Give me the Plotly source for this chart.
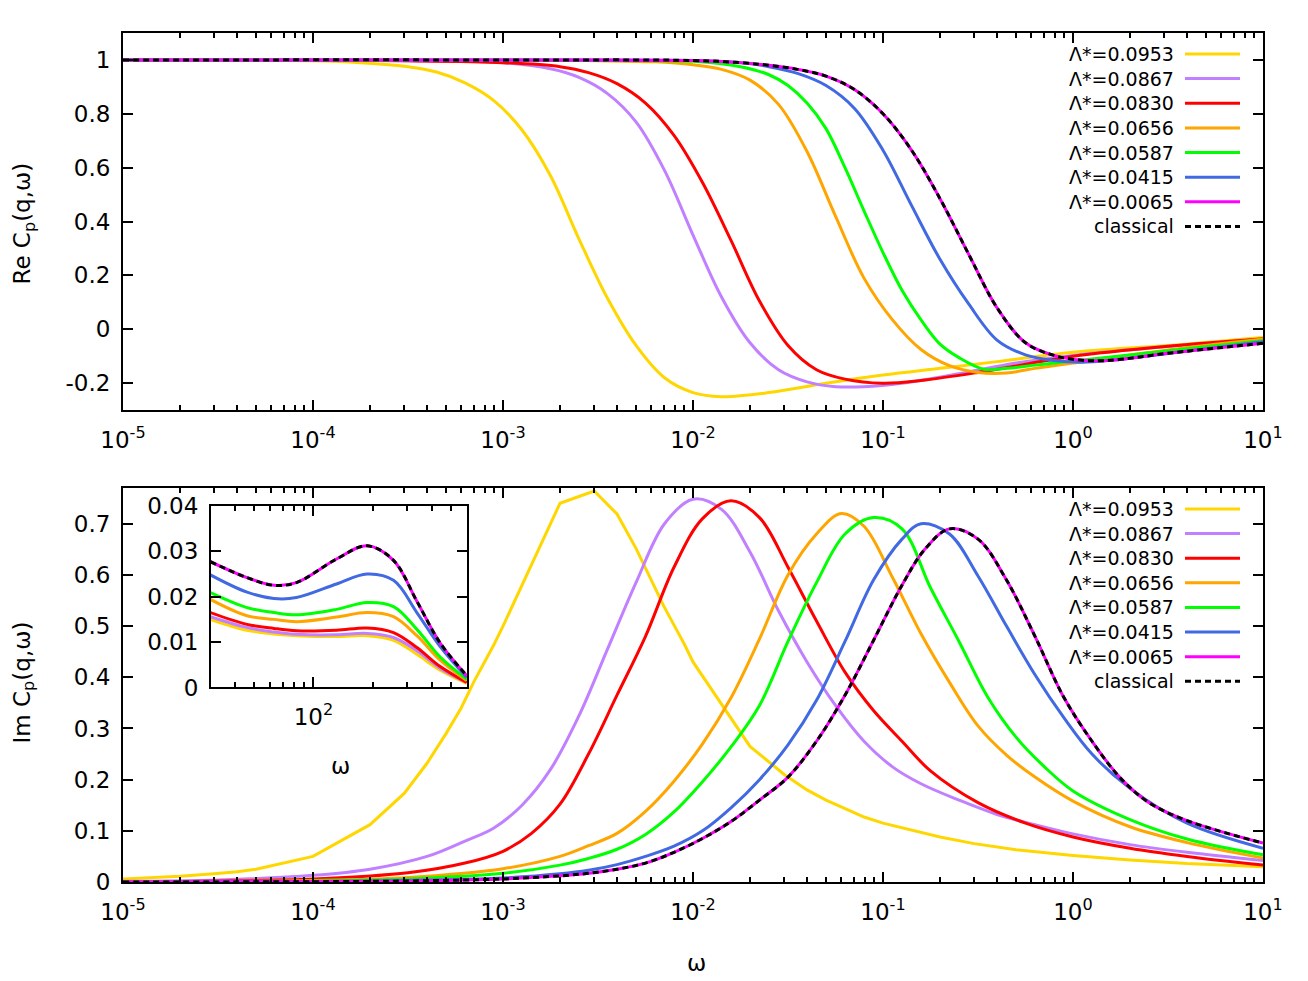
import numpy as np
import plotly.graph_objects as go

labels = ["Λ*=0.0953", "Λ*=0.0867", "Λ*=0.0830", "Λ*=0.0656",
          "Λ*=0.0587", "Λ*=0.0415", "Λ*=0.0065", "classical"]
colors = ["#FFD700", "#C080FF", "#FF0000", "#FFA500",
          "#00FF00", "#4169E1", "#FF00FF", "#000000"]

# ---- Re C_p(q,w): knots as log10(w) and value ----
re_lw_0953 = [-5, -4.5, -4, -3.75, -3.5, -3.35, -3.2, -3.05, -2.9, -2.75, -2.6, -2.45, -2.3, -2.15, -2.0,
              -1.85, -1.6, -1.3, -1.0, -0.7, -0.4, 0, 0.5, 1]
re_0953 = [1.0, 0.999, 0.997, 0.99, 0.975, 0.955, 0.915, 0.85, 0.74, 0.57, 0.335, 0.115, -0.06, -0.18, -0.235,
           -0.25, -0.235, -0.2, -0.17, -0.145, -0.12, -0.085, -0.06, -0.03]

re_lw_0867 = [-5, -4, -3.5, -3.0, -2.75, -2.6, -2.45, -2.3, -2.15, -2.0, -1.85, -1.7, -1.55, -1.4, -1.25,
              -1.1, -0.9, -0.6, -0.3, 0, 0.5, 1]
re_0867 = [1.0, 0.999, 0.997, 0.99, 0.967, 0.935, 0.875, 0.77, 0.59, 0.35, 0.12, -0.05, -0.15, -0.195, -0.213,
           -0.213, -0.2, -0.165, -0.125, -0.097, -0.064, -0.037]

re_lw_0830 = [-5, -4, -3.5, -3.0, -2.7, -2.55, -2.4, -2.25, -2.1, -1.95, -1.8, -1.65, -1.5, -1.35, -1.2,
              -1.0, -0.8, -0.5, -0.25, 0, 0.5, 1]
re_0830 = [1.0, 0.999, 0.997, 0.99, 0.975, 0.953, 0.912, 0.84, 0.72, 0.545, 0.33, 0.105, -0.06, -0.15, -0.185,
           -0.2, -0.19, -0.16, -0.13, -0.10, -0.063, -0.035]

re_lw_0656 = [-5, -3, -2.5, -2.2, -2.0, -1.85, -1.7, -1.55, -1.4, -1.25, -1.1, -0.95, -0.8, -0.65, -0.5,
              -0.35, -0.2, 0, 0.5, 1]
re_0656 = [1.0, 0.999, 0.997, 0.993, 0.982, 0.965, 0.925, 0.835, 0.66, 0.42, 0.19, 0.035, -0.075, -0.135, -0.16,
           -0.162, -0.145, -0.125, -0.077, -0.036]

re_lw_0587 = [-5, -3, -2.5, -2, -1.75, -1.6, -1.5, -1.4, -1.3, -1.2, -1.1, -1.0, -0.9, -0.8, -0.7, -0.6, -0.47,
              -0.35, -0.2, 0, 0.5, 1]
re_0587 = [1.0, 0.999, 0.998, 0.995, 0.975, 0.945, 0.905, 0.84, 0.745, 0.60, 0.44, 0.285, 0.145, 0.035, -0.055,
           -0.105, -0.148, -0.145, -0.133, -0.118, -0.08, -0.042]

re_lw_0415 = [-5, -3, -2, -1.75, -1.6, -1.45, -1.3, -1.15, -1.0, -0.85, -0.7, -0.55, -0.4, -0.25, -0.1,
              0.05, 0.2, 0.5, 1]
re_0415 = [1.0, 1.0, 0.998, 0.99, 0.975, 0.95, 0.905, 0.82, 0.665, 0.46, 0.26, 0.095, -0.04, -0.095, -0.116,
           -0.122, -0.115, -0.09, -0.046]

re_lw_0065 = [-5, -3, -2, -1.75, -1.6, -1.45, -1.3, -1.15, -1.0, -0.85, -0.7, -0.55, -0.4, -0.25, -0.1,
              0.05, 0.2, 0.5, 1]
re_0065 = [1.0, 1.0, 0.998, 0.99, 0.98, 0.965, 0.94, 0.89, 0.80, 0.665, 0.485, 0.28, 0.08, -0.05, -0.097,
           -0.115, -0.115, -0.089, -0.052]

# ---- Im C_p(q,w) ----
im_lw_0953 = [-5, -4.7, -4.52, -4.4, -4.3, -4, -3.7, -3.52, -3.4, -3.3, -3.22, -3.155, -3.097, -3.046, -3.0,
              -2.7, -2.52, -2.4, -2.3, -2.22, -2.155, -2.097, -2.046, -2.0, -1.7, -1.52, -1.4, -1.3, -1.22,
              -1.155, -1.1, -1.046, -1.0, -0.7, -0.52, -0.3, 0, 0.3, 0.6, 1]
im_0953 = [0.006, 0.011, 0.016, 0.02, 0.025, 0.05, 0.112, 0.173, 0.232, 0.29, 0.34, 0.39, 0.43, 0.465, 0.50,
           0.74, 0.764, 0.719, 0.652, 0.592, 0.54, 0.50, 0.465, 0.43, 0.265, 0.21, 0.18, 0.16, 0.146,
           0.136, 0.127, 0.12, 0.115, 0.088, 0.075, 0.063, 0.052, 0.043, 0.036, 0.03]

im_lw_0867 = [-5, -4.5, -4, -3.7, -3.4, -3.2, -3.05, -2.9, -2.75, -2.6, -2.45, -2.3, -2.15, -2.0, -1.85,
              -1.7, -1.55, -1.4, -1.25, -1.1, -0.95, -0.8, -0.6, -0.4, -0.2, 0, 0.3, 0.6, 1]
im_0867 = [0.0013, 0.004, 0.013, 0.025, 0.05, 0.08, 0.105, 0.15, 0.22, 0.325, 0.455, 0.585, 0.70, 0.748, 0.728,
           0.645, 0.53, 0.43, 0.345, 0.275, 0.225, 0.192, 0.16, 0.132, 0.112, 0.094, 0.073, 0.058, 0.042]

im_lw_0830 = [-5, -4.5, -4, -3.5, -3.2, -3.0, -2.85, -2.7, -2.55, -2.4, -2.25, -2.1, -1.95, -1.8, -1.65,
              -1.5, -1.35, -1.2, -1.05, -0.9, -0.75, -0.5, -0.25, 0, 0.3, 0.6, 1]
im_0830 = [0.0006, 0.002, 0.006, 0.018, 0.037, 0.06, 0.095, 0.152, 0.25, 0.365, 0.48, 0.615, 0.71, 0.745, 0.712,
           0.615, 0.51, 0.41, 0.335, 0.275, 0.217, 0.155, 0.115, 0.088, 0.066, 0.05, 0.033]

im_lw_0656 = [-5, -4, -3.5, -3, -2.7, -2.55, -2.4, -2.25, -2.1, -1.95, -1.8, -1.65, -1.5, -1.35, -1.22,
              -1.1, -0.95, -0.8, -0.65, -0.5, -0.35, -0.2, 0, 0.3, 0.6, 1]
im_0656 = [0.0003, 0.003, 0.009, 0.026, 0.05, 0.071, 0.095, 0.138, 0.197, 0.27, 0.36, 0.475, 0.60, 0.68, 0.72,
           0.695, 0.595, 0.485, 0.39, 0.305, 0.248, 0.205, 0.158, 0.108, 0.077, 0.047]

im_lw_0587 = [-5, -4, -3.5, -3, -2.7, -2.55, -2.4, -2.25, -2.1, -1.95, -1.8, -1.65, -1.5, -1.35, -1.2,
              -1.05, -0.9, -0.75, -0.6, -0.45, -0.3, -0.15, 0, 0.3, 0.6, 1]
im_0587 = [0.0002, 0.002, 0.006, 0.017, 0.033, 0.046, 0.064, 0.093, 0.137, 0.196, 0.264, 0.345, 0.47, 0.585, 0.68,
           0.712, 0.69, 0.575, 0.47, 0.362, 0.283, 0.225, 0.178, 0.122, 0.084, 0.053]

im_lw_0415 = [-5, -4, -3.5, -3, -2.7, -2.55, -2.4, -2.25, -2.1, -1.95, -1.8, -1.65, -1.5, -1.35, -1.2,
              -1.05, -0.9, -0.8, -0.65, -0.5, -0.35, -0.2, -0.05, 0.1, 0.3, 0.6, 1]
im_0415 = [0.0001, 0.0008, 0.003, 0.008, 0.016, 0.023, 0.034, 0.05, 0.07, 0.10, 0.145, 0.20, 0.268, 0.355, 0.47,
           0.59, 0.67, 0.70, 0.68, 0.598, 0.50, 0.405, 0.322, 0.25, 0.183, 0.115, 0.066]

im_lw_0065 = [-5, -4, -3.5, -3, -2.7, -2.55, -2.4, -2.25, -2.1, -1.95, -1.8, -1.65, -1.5, -1.35, -1.2,
              -1.05, -0.9, -0.78, -0.65, -0.5, -0.35, -0.2, -0.05, 0.1, 0.25, 0.4, 0.6, 1]
im_0065 = [0.0001, 0.0006, 0.002, 0.006, 0.012, 0.017, 0.025, 0.037, 0.058, 0.085, 0.118, 0.16, 0.205, 0.275, 0.365,
           0.472, 0.58, 0.65, 0.69, 0.67, 0.59, 0.48, 0.362, 0.275, 0.203, 0.155, 0.12, 0.076]

# ---- inset: Im C_p at large w ----
inset_w = [30, 46, 63, 82, 131, 187, 255, 335, 440, 600]
ins_0953 = [0.0150, 0.0126, 0.0118, 0.0114, 0.0112, 0.0114, 0.0104, 0.0073, 0.0038, 0.0009]
ins_0867 = [0.0156, 0.0132, 0.0122, 0.0117, 0.0116, 0.0119, 0.0110, 0.0081, 0.0042, 0.0011]
ins_0830 = [0.0165, 0.0139, 0.0130, 0.0125, 0.0126, 0.0131, 0.0121, 0.0088, 0.0046, 0.0011]
ins_0656 = [0.0194, 0.0158, 0.0150, 0.0145, 0.0155, 0.0165, 0.0156, 0.0114, 0.0060, 0.0015]
ins_0587 = [0.0209, 0.0176, 0.0165, 0.0160, 0.0172, 0.0187, 0.0178, 0.0128, 0.0067, 0.0018]
ins_0415 = [0.0248, 0.0210, 0.0196, 0.0198, 0.0228, 0.0250, 0.0236, 0.0165, 0.0090, 0.0022]
ins_0065 = [0.0277, 0.0242, 0.0225, 0.0231, 0.0283, 0.0312, 0.0280, 0.0190, 0.0098, 0.0026]

re_series = [(re_lw_0953, re_0953), (re_lw_0867, re_0867), (re_lw_0830, re_0830), (re_lw_0656, re_0656),
             (re_lw_0587, re_0587), (re_lw_0415, re_0415), (re_lw_0065, re_0065), (re_lw_0065, re_0065)]
im_series = [(im_lw_0953, im_0953), (im_lw_0867, im_0867), (im_lw_0830, im_0830), (im_lw_0656, im_0656),
             (im_lw_0587, im_0587), (im_lw_0415, im_0415), (im_lw_0065, im_0065), (im_lw_0065, im_0065)]
inset_series = [ins_0953, ins_0867, ins_0830, ins_0656, ins_0587, ins_0415, ins_0065, ins_0065]

FONT = "DejaVu Sans"


def line_style(i, shape="spline"):
    if i == 7:
        return dict(color="black", width=3, dash="6px,4px", shape=shape, smoothing=1.0)
    return dict(color=colors[i], width=3, shape=shape, smoothing=1.0)


fig = go.Figure()
for i in range(8):
    lw, v = re_series[i]
    fig.add_trace(go.Scatter(x=10 ** np.array(lw, dtype=float), y=v, mode="lines",
                             line=line_style(i), xaxis="x", yaxis="y", hoverinfo="skip"))
for i in range(8):
    lw, v = im_series[i]
    shape = "linear" if i == 0 else "spline"
    fig.add_trace(go.Scatter(x=10 ** np.array(lw, dtype=float), y=v, mode="lines",
                             line=line_style(i, shape), xaxis="x2", yaxis="y2", hoverinfo="skip"))
for i in range(8):
    fig.add_trace(go.Scatter(x=inset_w, y=inset_series[i], mode="lines",
                             line=line_style(i), xaxis="x3", yaxis="y3", hoverinfo="skip"))

decades = [1e-5, 1e-4, 1e-3, 1e-2, 1e-1, 1e0, 1e1]
dec_text = ["10<sup>-5</sup>", "10<sup>-4</sup>", "10<sup>-3</sup>", "10<sup>-2</sup>",
            "10<sup>-1</sup>", "10<sup>0</sup>", "10<sup>1</sup>"]
minor_vals = [k * 10.0 ** e for e in range(-5, 1) for k in range(2, 10)]

axis_common = dict(showline=True, linecolor="black", linewidth=2, mirror="ticks",
                   ticks="inside", ticklen=10, tickwidth=1.5, tickcolor="black",
                   showgrid=False, zeroline=False,
                   tickfont=dict(family=FONT, size=23, color="black"))
xlog = dict(axis_common, type="log", range=[-5, 1], tickmode="array", tickvals=decades, ticktext=dec_text,
            minor=dict(tickmode="array", tickvals=minor_vals, ticks="inside", ticklen=5,
                       tickwidth=1.5, tickcolor="black", showgrid=False),
            ticklabelstandoff=8)

top_dom = [1 - 378 / 851, 1]
bot_dom = [0, 395 / 851]

# the page body adds an 8px offset, so the figure is 8px smaller than the window
fig.update_layout(
    width=1300, height=973,
    margin=dict(l=115, r=45, t=23, b=99),
    paper_bgcolor="white", plot_bgcolor="white",
    showlegend=False,
    font=dict(family=FONT, size=23, color="black"),
    xaxis=dict(xlog, domain=[0, 1], anchor="y"),
    yaxis=dict(axis_common, domain=top_dom, anchor="x", range=[-0.3, 1.1], tickmode="array",
               tickvals=[-0.2, 0, 0.2, 0.4, 0.6, 0.8, 1],
               ticktext=["-0.2", "0", "0.2", "0.4", "0.6", "0.8", "1"], ticklabelstandoff=6),
    xaxis2=dict(xlog, domain=[0, 1], anchor="y2"),
    yaxis2=dict(axis_common, domain=bot_dom, anchor="x2", range=[0, 0.77], tickmode="array",
                tickvals=[0, 0.1, 0.2, 0.3, 0.4, 0.5, 0.6, 0.7],
                ticktext=["0", "0.1", "0.2", "0.3", "0.4", "0.5", "0.6", "0.7"], ticklabelstandoff=6),
    xaxis3=dict(axis_common, type="log", domain=[88 / 1140, 344 / 1140], anchor="y3",
                range=[np.log10(30.2), np.log10(602)], tickmode="array",
                tickvals=[100], ticktext=["10<sup>2</sup>"], ticklabelstandoff=8,
                minor=dict(tickmode="array", tickvals=[40, 50, 60, 70, 80, 90, 200, 300, 400, 500],
                           ticks="inside", ticklen=5, tickwidth=1.5, tickcolor="black", showgrid=False)),
    yaxis3=dict(axis_common, domain=[195 / 851, 377 / 851], anchor="x3", range=[0, 0.04], tickmode="array",
                tickvals=[0, 0.01, 0.02, 0.03, 0.04], ticktext=["0", "0.01", "0.02", "0.03", "0.04"],
                ticklabelstandoff=6),
)


def py2paper(py):
    return (882 - py) / 851


def px2paper(px):
    return (px - 123) / 1140


title_font = dict(family=FONT, size=23)
fig.add_annotation(text="Re C<sub>p</sub>(q,ω)", xref="paper", yref="paper", x=px2paper(24), y=py2paper(222),
                   xanchor="center", yanchor="middle", textangle=-90, showarrow=False, font=title_font)
fig.add_annotation(text="Im C<sub>p</sub>(q,ω)", xref="paper", yref="paper", x=px2paper(24), y=py2paper(682),
                   xanchor="center", yanchor="middle", textangle=-90, showarrow=False, font=title_font)
fig.add_annotation(text="ω", xref="paper", yref="paper", x=px2paper(696), y=py2paper(963),
                   xanchor="center", yanchor="middle", showarrow=False, font=title_font)
fig.add_annotation(text="ω", xref="paper", yref="paper", x=px2paper(340), y=py2paper(766),
                   xanchor="center", yanchor="middle", showarrow=False, font=title_font)

# gnuplot-style keys: text right-aligned, sample line to its right
for top_row in (52, 508):
    for i in range(8):
        yk = py2paper(top_row + i * 24.7)
        fig.add_annotation(text=labels[i], xref="paper", yref="paper", x=px2paper(1176), y=yk,
                           xanchor="right", yanchor="middle", showarrow=False,
                           font=dict(family=FONT, size=19))
        dash = "6px,4px" if i == 7 else "solid"
        fig.add_shape(type="line", xref="paper", yref="paper",
                      x0=px2paper(1185), x1=px2paper(1240), y0=yk, y1=yk,
                      line=dict(color=colors[i], width=3, dash=dash))

fig.write_html("out.html")
